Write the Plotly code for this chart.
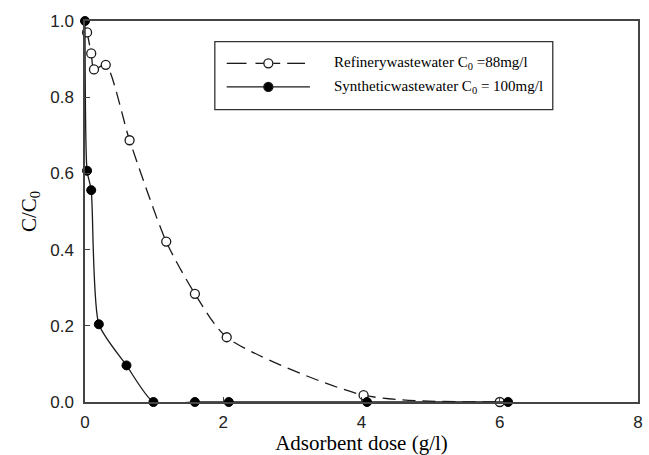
import plotly.graph_objects as go

# Refinery wastewater (open circles, dashed)
ref_x = [0.03, 0.09, 0.13, 0.30, 0.645, 1.175, 1.59, 2.05, 4.03, 6.0]
ref_y = [0.97, 0.915, 0.873, 0.885, 0.687, 0.421, 0.284, 0.17, 0.018, 0.0]

# Synthetic wastewater (filled circles, solid)
syn_x = [0.0, 0.03, 0.09, 0.2, 0.6, 0.99, 1.59, 2.08, 4.08, 6.12]
syn_y = [1.0, 0.607, 0.556, 0.204, 0.096, 0.0, 0.0, 0.0, 0.0, 0.0]

x_ticks = [0, 2, 4, 6, 8]
y_ticks = [0.0, 0.2, 0.4, 0.6, 0.8, 1.0]

legend_names = ["Refinerywastewater C<sub>0</sub> =88mg/l",
                "Syntheticwastewater C<sub>0</sub> = 100mg/l"]

INK = "#1a1a1a"
TXT = "rgb(0,0,0)"

fig = go.Figure()
fig.add_trace(go.Scatter(
    x=ref_x, y=ref_y, mode="lines+markers", name=legend_names[0], showlegend=False,
    line=dict(color=INK, width=1.3, dash="13px,7px", shape="spline", smoothing=0.7),
    marker=dict(symbol="circle", size=9, color="white", line=dict(color=INK, width=1.3)),
    cliponaxis=False,
))
fig.add_trace(go.Scatter(
    x=syn_x, y=syn_y, mode="lines+markers", name=legend_names[1], showlegend=False,
    line=dict(color=INK, width=1.3, shape="spline", smoothing=0.6),
    marker=dict(symbol="circle", size=9, color="black", line=dict(color="black", width=1)),
    cliponaxis=False,
))

axis_common = dict(
    showgrid=False, zeroline=False, showline=True, linecolor="#444", linewidth=1.5,
    mirror=True, ticks="inside", ticklen=5, tickcolor="#444", tickwidth=1.2,
    tickfont=dict(family="Liberation Sans, Arial", size=17, color="#222"),
)

# ---- manual legend (box, sample lines, symbols, text) in paper coords ----
L, R, T, B = 85, 643, 21, 408
def px(xp): return (xp - L) / (R - L)
def py(yp): return (B - yp) / (B - T)

shapes = []
annotations = []
shapes.append(dict(type="rect", xref="paper", yref="paper",
                   x0=px(216), x1=px(557), y0=py(111), y1=py(42),
                   line=dict(color="#333", width=1.3), fillcolor="white", layer="above"))
row_y = [64, 88]
# dashed sample (refinery)
for a, b in [(228, 248), (257, 266), (275, 282), (289, 307)]:
    shapes.append(dict(type="line", xref="paper", yref="paper",
                       x0=px(a), x1=px(b), y0=py(row_y[0]), y1=py(row_y[0]),
                       line=dict(color=INK, width=1.3), layer="above"))
# solid sample (synthetic)
shapes.append(dict(type="line", xref="paper", yref="paper",
                   x0=px(228), x1=px(312), y0=py(row_y[1]), y1=py(row_y[1]),
                   line=dict(color=INK, width=1.3), layer="above"))
# symbols
for ry, fill in [(row_y[0], "white"), (row_y[1], "black")]:
    shapes.append(dict(type="circle", xref="paper", yref="paper",
                       xsizemode="pixel", ysizemode="pixel",
                       xanchor=px(270), yanchor=py(ry),
                       x0=-4.5, x1=4.5, y0=-4.5, y1=4.5,
                       line=dict(color=INK, width=1.3), fillcolor=fill, layer="above"))
for ry, name in zip(row_y, legend_names):
    annotations.append(dict(xref="paper", yref="paper", x=px(334), y=py(ry),
                            xanchor="left", yanchor="middle", showarrow=False,
                            text=name,
                            font=dict(family="Liberation Serif, Times New Roman", size=15, color=TXT)))

fig.update_layout(
    width=649, height=455,
    margin=dict(l=L, r=649 - R, t=T, b=455 - B),
    paper_bgcolor="white", plot_bgcolor="white",
    showlegend=False,
    xaxis=dict(range=[0, 8], tickvals=x_ticks, ticktext=[str(v) for v in x_ticks],
               ticklabelstandoff=4,
               title=dict(text="Adsorbent dose (g/l)", standoff=2,
                          font=dict(family="Liberation Serif, Times New Roman", size=21, color=TXT)),
               **axis_common),
    yaxis=dict(range=[0, 1], tickvals=y_ticks, ticktext=[f"{v:.1f}" for v in y_ticks],
               ticklabelstandoff=6,
               title=dict(text="C/C<sub>0</sub>", standoff=8,
                          font=dict(family="Liberation Serif, Times New Roman", size=21, color=TXT)),
               **axis_common),
    shapes=shapes,
    annotations=annotations,
)

fig.write_html("out.html")
